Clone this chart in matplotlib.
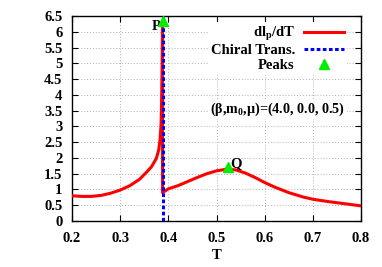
import matplotlib

matplotlib.use("Agg")
import matplotlib.pyplot as plt
import numpy as np

# curve: below and above the chiral transition
t_low = [0.20, 0.22, 0.24, 0.26, 0.28, 0.30, 0.32, 0.34, 0.355, 0.365, 0.375, 0.380, 0.383, 0.385, 0.386, 0.387, 0.388]
dl_low = [0.80, 0.78, 0.78, 0.81, 0.88, 0.98, 1.12, 1.32, 1.55, 1.72, 1.98, 2.25, 2.6, 3.1, 3.8, 4.8, 6.3]
t_high = [0.388, 0.40, 0.42, 0.44, 0.46, 0.48, 0.50, 0.52, 0.54, 0.56, 0.58, 0.60, 0.62, 0.65, 0.68, 0.70, 0.73, 0.76, 0.80]
dl_high = [0.90, 1.02, 1.12, 1.25, 1.38, 1.50, 1.59, 1.64, 1.62, 1.52, 1.38, 1.22, 1.08, 0.90, 0.76, 0.69, 0.62, 0.56, 0.48]
t_chiral = 0.389
peak_t = [0.388, 0.524]
peak_dl = [6.33, 1.70]
peak_names = ["P", "Q"]

plt.rcParams["font.family"] = ["Liberation Serif", "DejaVu Serif"]
plt.rcParams["font.weight"] = "bold"
plt.rcParams["mathtext.fontset"] = "custom"
plt.rcParams["mathtext.rm"] = "Liberation Serif:bold"
plt.rcParams["mathtext.it"] = "Liberation Serif:bold"

fs = 10.5
fig = plt.figure(figsize=(3.82, 2.67), dpi=100)
ax = fig.add_axes([72 / 382, 46 / 267, 289 / 382, 205 / 267])

ax.grid(True, color="#b0b0b0", linestyle=(0, (1, 2)), linewidth=0.7)
ax.set_axisbelow(True)

ax.plot(t_low + t_high, dl_low + dl_high, color="red", lw=2.2, label=r"dl$_\mathrm{p}$/dT", zorder=3)
ax.plot([t_chiral, t_chiral], [0, 6.5], color="blue", lw=2.2, linestyle=(0, (1.2, 0.8)), label="Chiral Trans.", zorder=4)
ax.plot(peak_t, peak_dl, linestyle="none", marker="^", color="#00ee00", ms=7, label="Peaks", zorder=5)

ax.text(peak_t[0] - 0.004, peak_dl[0] - 0.15, peak_names[0], ha="right", va="center", fontsize=fs, fontweight="bold")
ax.text(peak_t[1] + 0.004, peak_dl[1] + 0.12, peak_names[1], ha="left", va="center", fontsize=fs, fontweight="bold")

ax.text(0.627, 3.55, r"($\beta$,m$_\mathrm{0}$,$\mu$)=(4.0, 0.0, 0.5)", ha="center", va="center", fontsize=10.2,
        fontweight="bold", bbox=dict(facecolor="white", edgecolor="none", pad=1), zorder=6)

leg = ax.legend(loc="upper right", bbox_to_anchor=(0.96, 0.985), markerfirst=False, frameon=True, fontsize=fs,
                handlelength=2.75, labelspacing=0.08, borderpad=0.2, handletextpad=0.6, fancybox=False,
                borderaxespad=0.2)
leg.get_frame().set_edgecolor("none")
leg.get_frame().set_alpha(1)
for txt in leg.get_texts():
    txt.set_ha("right")
leg._legend_box.align = "right"

ax.set_xlim(0.2, 0.8)
ax.set_ylim(0, 6.5)
ax.set_xticks(np.arange(0.2, 0.81, 0.1))
ax.set_yticks(np.arange(0, 6.51, 0.5))
ax.set_xticklabels(["0.2", "0.3", "0.4", "0.5", "0.6", "0.7", "0.8"])
ax.set_yticklabels(["0", "0.5", "1", "1.5", "2", "2.5", "3", "3.5", "4", "4.5", "5", "5.5", "6", "6.5"])
ax.tick_params(direction="in", top=True, right=True, length=4, labelsize=fs, width=0.8)
ax.tick_params(axis="x", pad=8)
ax.tick_params(axis="y", pad=7)
ax.set_xlabel("T", fontsize=fs, fontweight="bold", labelpad=3)
for s in ax.spines.values():
    s.set_linewidth(1.0)

fig.savefig("out.png", dpi=100)
